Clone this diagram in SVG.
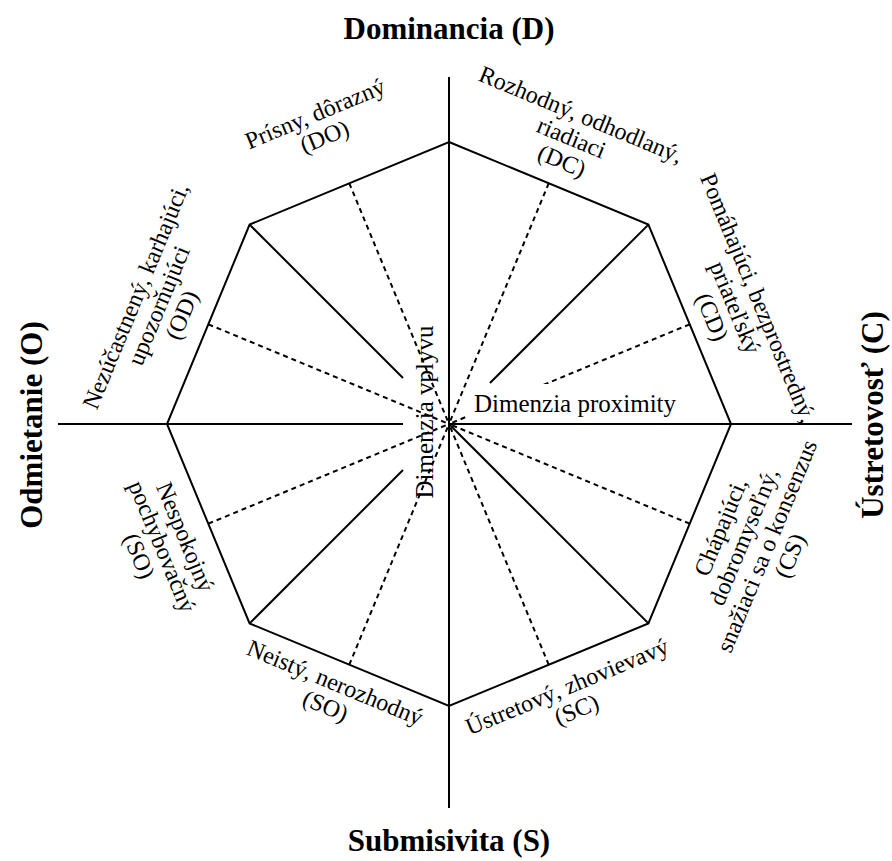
<svg xmlns="http://www.w3.org/2000/svg" width="892" height="861" viewBox="0 0 892 861">
  <style>
    .solid { stroke: #000; stroke-width: 2; fill: none; }
    .dash { stroke: #000; stroke-width: 2; fill: none; stroke-dasharray: 5 4; }
    .lbl { font-family: "Liberation Serif", "Times New Roman", serif; font-size: 24px; fill: #000; text-anchor: middle; }
    .axis { font-family: "Liberation Serif", "Times New Roman", serif; font-size: 31px; font-weight: bold; fill: #000; text-anchor: middle; }
    .dim { font-family: "Liberation Serif", "Times New Roman", serif; font-size: 25px; fill: #000; }
  </style>
  <rect width="892" height="861" fill="#fff"/>

  <!-- connectors: axes, octagon, spokes and dashed bisectors -->
  <g id="connectors">
    <line class="solid" x1="449" y1="77" x2="449" y2="808"/>
    <line class="solid" x1="58" y1="424" x2="403" y2="424"/>
    <line class="solid" x1="449" y1="424" x2="852" y2="424"/>
    <path class="solid" d="M449,142 L648.4,224.6 L731,424 L648.4,623.4 L449,706 L249.6,623.4 L167,424 L249.6,224.6 Z"/>
    <line class="solid" x1="249.6" y1="224.6" x2="403" y2="378"/>
    <line class="solid" x1="648.4" y1="224.6" x2="490" y2="383"/>
    <line class="solid" x1="648.4" y1="623.4" x2="449" y2="424"/>
    <line class="solid" x1="249.6" y1="623.4" x2="403" y2="470"/>
    <line class="dash" x1="349.3" y1="183.3" x2="449" y2="424"/>
    <line class="dash" x1="548.7" y1="183.3" x2="449" y2="424"/>
    <line class="dash" x1="689.7" y1="324.3" x2="449" y2="424"/>
    <line class="dash" x1="689.7" y1="523.7" x2="449" y2="424"/>
    <line class="dash" x1="548.7" y1="664.7" x2="449" y2="424"/>
    <line class="dash" x1="349.3" y1="664.7" x2="449" y2="424"/>
    <line class="dash" x1="208.3" y1="523.7" x2="449" y2="424"/>
    <line class="dash" x1="208.3" y1="324.3" x2="449" y2="424"/>
  </g>

  <!-- axis titles -->
  <g id="axis-D"><text class="axis" x="449" y="39">Dominancia (D)</text></g>
  <g id="axis-S"><text class="axis" x="449" y="851">Submisivita (S)</text></g>
  <g id="axis-O"><text class="axis" transform="translate(42,425) rotate(-90)">Odmietanie (O)</text></g>
  <g id="axis-C"><text class="axis" transform="translate(883,415) rotate(-90)">Ústretovosť (C)</text></g>

  <!-- dimension captions -->
  <g id="dim-vplyv"><text class="dim" text-anchor="middle" transform="translate(433,412) rotate(-90)">Dimenzia vplyvu</text></g>
  <g id="dim-proximity">
    <rect x="467" y="384" width="236" height="36" fill="#fff"/>
    <text class="dim" x="474" y="412" font-size="27">Dimenzia proximity</text>
  </g>

  <!-- octant labels -->
  <g id="DO" transform="translate(318,121) rotate(-22.5)">
    <text class="lbl" y="0">Prísny, dôrazný</text>
    <text class="lbl" y="25">(DO)</text>
  </g>
  <g id="DC" transform="translate(578,122) rotate(22.5)">
    <text class="lbl" y="0">Rozhodný, odhodlaný,</text>
    <text class="lbl" y="25">riadiaci</text>
    <text class="lbl" y="50">(DC)</text>
  </g>
  <g id="CD" transform="translate(751,301) rotate(67.5)">
    <text class="lbl" y="0">Pomáhajúci, bezprostredný,</text>
    <text class="lbl" y="25">priateľský</text>
    <text class="lbl" y="50">(CD)</text>
  </g>
  <g id="CS" transform="translate(728,530) rotate(-67.5)">
    <text class="lbl" y="0">Chápajúci,</text>
    <text class="lbl" y="25">dobromyseľný,</text>
    <text class="lbl" y="50">snažiaci sa o konsenzus</text>
    <text class="lbl" y="75">(CS)</text>
  </g>
  <g id="SC" transform="translate(570,694) rotate(-22.5)">
    <text class="lbl" y="0">Ústretový, zhovievavý</text>
    <text class="lbl" y="25">(SC)</text>
  </g>
  <g id="SO-bottom" transform="translate(332,690) rotate(22.5)">
    <text class="lbl" y="0">Neistý, nerozhodný</text>
    <text class="lbl" y="25">(SO)</text>
  </g>
  <g id="SO-left" transform="translate(178,540) rotate(67.5)">
    <text class="lbl" y="0">Nespokojný</text>
    <text class="lbl" y="25">pochybovačný</text>
    <text class="lbl" y="50">(SO)</text>
  </g>
  <g id="OD" transform="translate(143,299) rotate(-67.5)">
    <text class="lbl" y="0">Nezúčastnený, karhajúci,</text>
    <text class="lbl" y="25">upozorňujúci</text>
    <text class="lbl" y="50">(OD)</text>
  </g>
</svg>
